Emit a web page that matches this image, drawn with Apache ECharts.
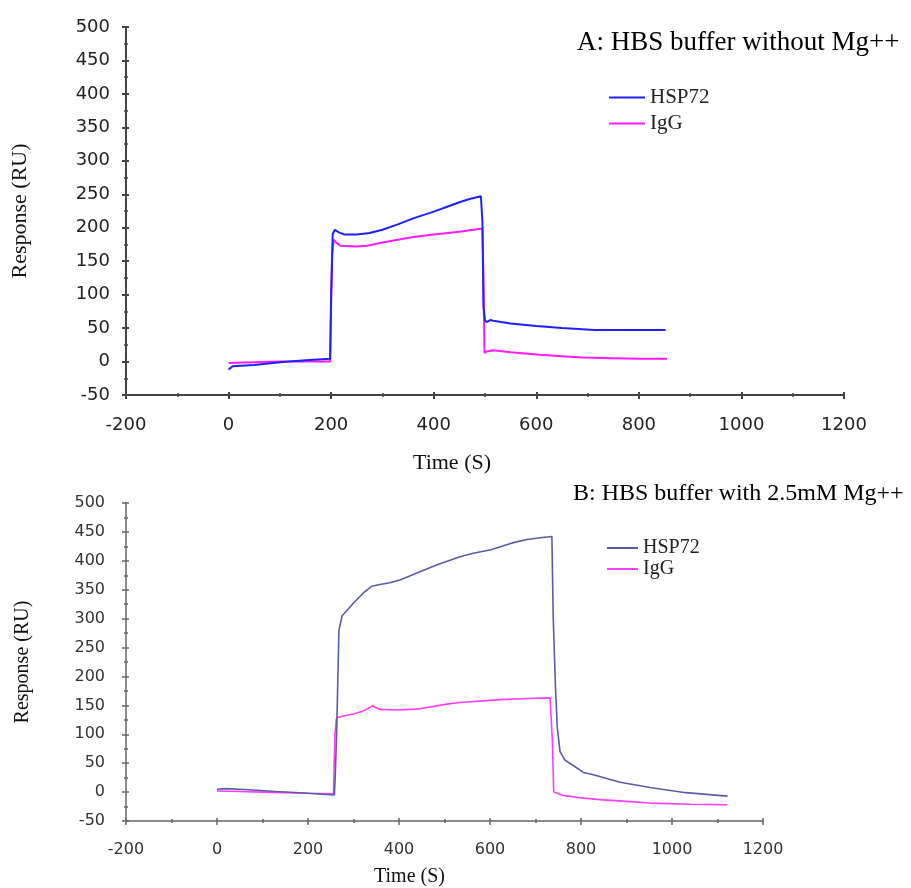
<!DOCTYPE html>
<html>
<head>
<meta charset="utf-8">
<script src="https://cdn.jsdelivr.net/npm/echarts@6/dist/echarts.min.js"></script>
<style>
html,body{margin:0;padding:0;background:#fff;}
#c{width:911px;height:888px;}
</style>
</head>
<body>
<div id="c"></div>
<script>
// ---- Panel A: HBS buffer without Mg++ ----
const aHspTime = [0, 8, 50, 100, 150, 198, 200, 203, 207, 215, 225, 250, 275, 300, 330, 360, 400, 425, 450, 470, 492, 494, 495, 496, 497, 500, 503, 510, 516, 550, 600, 650, 714, 760, 800, 852];
const aHspVal  = [-12, -7, -5, -1, 2, 4, 100, 190, 197, 193, 190, 190, 192, 197, 205, 214, 224, 231, 238, 243, 247, 245, 209, 150, 82, 62, 59, 62, 61, 57, 53, 50, 47, 47, 47, 47];
const aIggTime = [0, 50, 100, 150, 198, 200, 202, 205, 210, 218, 250, 270, 300, 360, 400, 450, 495, 497, 499, 503, 516, 550, 607, 650, 691, 750, 800, 855];
const aIggVal  = [-2, -1, 0, 0, 0, 90, 160, 182, 178, 173, 172, 173, 178, 186, 190, 194, 199, 120, 13, 15, 17, 14, 10, 8, 6, 5, 4, 4];

// ---- Panel B: HBS buffer with 2.5mM Mg++ ----
const bHspTime = [0, 20, 70, 130, 200, 258, 260, 263, 268, 275, 290, 300, 321, 340, 358, 380, 402, 446, 484, 534, 563, 602, 649, 681, 710, 736, 739, 744, 748, 754, 765, 783, 805, 823, 886, 952, 1030, 1122];
const bHspVal  = [5, 6, 4, 1, -2, -5, 30, 103, 280, 305, 318, 327, 344, 356, 359, 362, 367, 381, 393, 407, 413, 419, 431, 437, 440, 442, 300, 180, 110, 70, 55, 46, 34, 31, 17, 8, -1, -7];
const bIggTime = [0, 50, 100, 150, 200, 256, 259, 262, 264, 280, 300, 320, 342, 358, 395, 446, 512, 534, 622, 680, 732, 735, 737, 740, 761, 800, 842, 900, 952, 1040, 1122];
const bIggVal  = [2, 1, 0, -1, -2, -3, 97, 125, 129, 132, 135, 140, 149, 143, 142, 144, 153, 155, 160, 162, 163, 163, 90, 0, -6, -10, -13, -16, -19, -21, -22];

const seriesNames = ['HSP72', 'IgG'];
const titleA = 'A: HBS buffer without Mg++';
const titleB = 'B: HBS buffer with 2.5mM Mg++';
const xName = 'Time (S)';
const yName = 'Response (RU)';

function zip(t, v) { return t.map((x, i) => [x, v[i]]); }

const serif = '"Liberation Serif", "Times New Roman", serif';
const sans = '"DejaVu Sans", Verdana, sans-serif';
const plain = v => String(v);

function xAxisCfg(grid, fs, lineW, lineC, margin, nameFs, nameGap, shift, labelC) {
  return {
    gridIndex: grid, type: 'value', min: -200, max: 1200, interval: 200, position: 'bottom',
    axisLine: { onZero: false, lineStyle: { color: lineC, width: lineW } },
    axisTick: { show: true, inside: false, length: 4, lineStyle: { color: lineC, width: lineW } },
    minorTick: { show: true, splitNumber: 2, length: 2, lineStyle: { color: lineC, width: 1.5 } },
    splitLine: { show: false },
    axisLabel: { fontFamily: sans, fontSize: fs, color: labelC, margin: margin, formatter: plain },
    name: xName, nameLocation: 'middle', nameGap: nameGap,
    nameTextStyle: { fontFamily: serif, fontSize: nameFs, color: '#111', padding: [0, shift, 0, 0] }
  };
}
function yAxisCfg(grid, fs, lineW, lineC, margin, nameFs, nameGap, labelC) {
  return {
    gridIndex: grid, type: 'value', min: -50, max: 500, interval: 50, position: 'left',
    axisLine: { onZero: false, lineStyle: { color: lineC, width: lineW } },
    axisTick: { show: true, inside: false, length: 4, lineStyle: { color: lineC, width: lineW } },
    minorTick: { show: true, splitNumber: 2, length: 2, lineStyle: { color: lineC, width: 1.5 } },
    splitLine: { show: false },
    axisLabel: { fontFamily: sans, fontSize: fs, color: labelC, margin: margin, formatter: plain },
    name: yName, nameLocation: 'middle', nameGap: nameGap,
    nameTextStyle: { fontFamily: serif, fontSize: nameFs, color: '#111' }
  };
}
// inner half of the crossing ticks
function innerTicks(base, lineW, lineC) {
  return Object.assign({}, base, {
    name: '', axisLine: { show: false, onZero: false },
    axisTick: { show: true, inside: true, length: 3, lineStyle: { color: lineC, width: lineW } },
    minorTick: { show: true, splitNumber: 2, length: 2, lineStyle: { color: lineC, width: 1.5 } },
    axisLabel: { show: false }
  });
}

const xA = xAxisCfg(0, 18, 2, '#444', 21, 22, 57, 66, '#222');
const xB = xAxisCfg(1, 16, 1.5, '#666', 21, 20, 46, 70, '#333');
const yA = yAxisCfg(0, 18, 2, '#444', 16, 22, 95, '#222');
const yB = yAxisCfg(1, 16, 1.5, '#666', 21, 20, 93, '#333');

const chart = echarts.init(document.getElementById('c'), null, { renderer: 'canvas' });
chart.setOption({
  animation: false,
  backgroundColor: '#fff',
  title: [
    { text: titleA, left: 577, top: 29, padding: 0,
      textStyle: { fontFamily: serif, fontSize: 27, fontWeight: 'normal', color: '#000' } },
    { text: titleB, left: 573, top: 482, padding: 0,
      textStyle: { fontFamily: serif, fontSize: 24, fontWeight: 'normal', color: '#000' } }
  ],
  legend: [
    { data: ['A ' + seriesNames[0], 'A ' + seriesNames[1]], left: 609, top: 87, orient: 'vertical',
      icon: 'rect', itemWidth: 36, itemHeight: 2, itemGap: 5, padding: 0,
      formatter: n => n.slice(2),
      textStyle: { fontFamily: serif, fontSize: 21, color: '#222' } },
    { data: ['B ' + seriesNames[0], 'B ' + seriesNames[1]], left: 607, top: 538, orient: 'vertical',
      icon: 'rect', itemWidth: 31, itemHeight: 2, itemGap: 1, padding: 0,
      formatter: n => n.slice(2),
      textStyle: { fontFamily: serif, fontSize: 20, color: '#222' } }
  ],
  grid: [
    { left: 126, right: 67, top: 27, height: 368 },
    { left: 126, right: 148, top: 503, height: 319 }
  ],
  xAxis: [xA, xB, innerTicks(xA, 2, '#444'), innerTicks(xB, 1.5, '#666')],
  yAxis: [yA, yB, innerTicks(yA, 2, '#444'), innerTicks(yB, 1.5, '#666')],
  series: [
    { name: 'A ' + seriesNames[0], type: 'line', xAxisIndex: 0, yAxisIndex: 0, symbol: 'none',
      data: zip(aHspTime, aHspVal), lineStyle: { color: '#2020ff', width: 2 }, itemStyle: { color: '#2020ff' }, z: 3 },
    { name: 'A ' + seriesNames[1], type: 'line', xAxisIndex: 0, yAxisIndex: 0, symbol: 'none',
      data: zip(aIggTime, aIggVal), lineStyle: { color: '#ff1aff', width: 2 }, itemStyle: { color: '#ff1aff' }, z: 2 },
    { name: 'B ' + seriesNames[0], type: 'line', xAxisIndex: 1, yAxisIndex: 1, symbol: 'none',
      data: zip(bHspTime, bHspVal), lineStyle: { color: '#5b5bab', width: 1.6 }, itemStyle: { color: '#5b5bab' }, z: 3 },
    { name: 'B ' + seriesNames[1], type: 'line', xAxisIndex: 1, yAxisIndex: 1, symbol: 'none',
      data: zip(bIggTime, bIggVal), lineStyle: { color: '#ff3cff', width: 1.6 }, itemStyle: { color: '#ff3cff' }, z: 2 }
  ]
});
</script>
</body>
</html>
